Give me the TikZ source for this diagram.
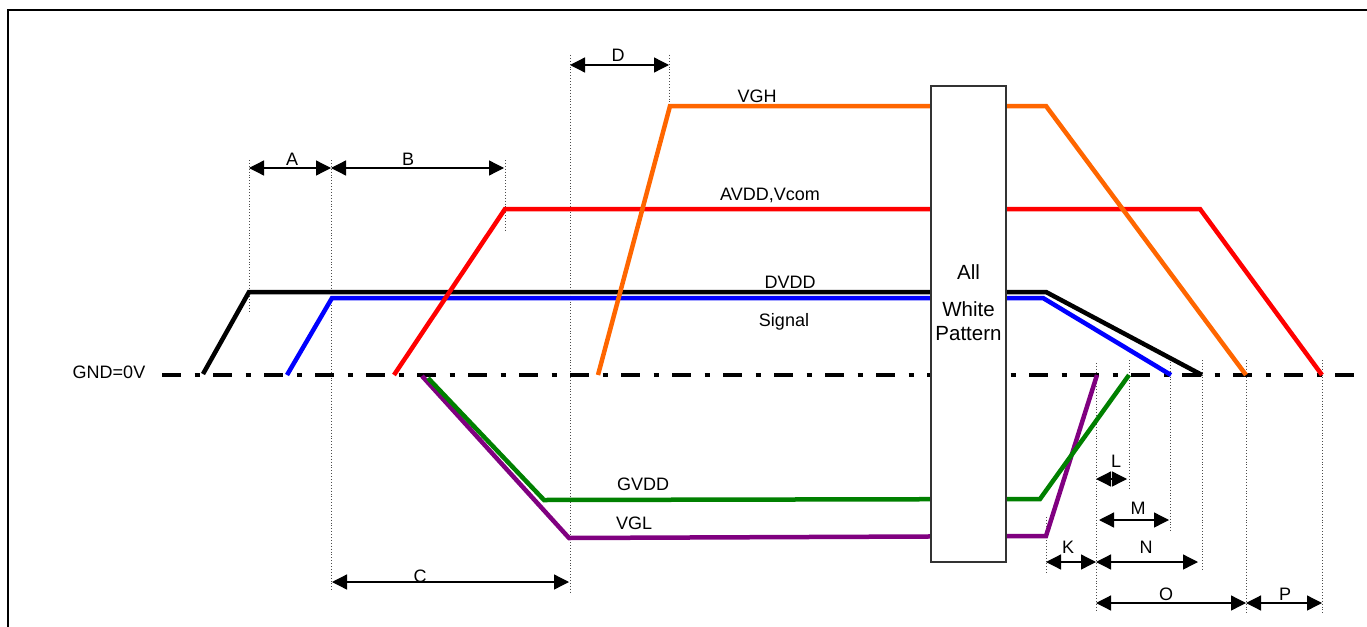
\documentclass[tikz,border=0pt]{standalone}
\usepackage{fontspec}
\setmainfont{Liberation Sans}
\usetikzlibrary{arrows.meta}
\definecolor{cOrange}{HTML}{FF6600}
\definecolor{cRed}{HTML}{FF0000}
\definecolor{cBlue}{HTML}{0000FF}
\definecolor{cGreen}{HTML}{008000}
\definecolor{cPurple}{HTML}{800080}
\begin{document}
\begin{tikzpicture}[x=1pt,y=-1pt,
  sig/.style={line width=4.5pt},
  dimline/.style={line width=1.3pt,{Triangle[length=15pt,width=15pt]}-{Triangle[length=15pt,width=15pt]}},
  guide/.style={dotted, line width=0.9pt, black!70},
  lbl/.style={anchor=base, inner sep=0pt, font=\fontsize{18}{21}\selectfont},
  boxtxt/.style={anchor=base, inner sep=0pt, font=\fontsize{20.5}{24}\selectfont},
  gndline/.style={line width=4.5pt, dash pattern=on 19pt off 13.5pt on 5pt off 13.5pt}]
\useasboundingbox (0,0) rectangle (1367,626);
\clip (0,0) rectangle (1367,626);
% frame
\draw[line width=2pt] (8,10) rectangle (1390,650);

% guide lines
\draw[guide] (249,160) -- (249,313);
\draw[guide] (331,160) -- (331,592);
\draw[guide] (505,160) -- (505,232);
\draw[guide] (570,55) -- (570,594);
\draw[guide] (669,55) -- (669,106);
\draw[guide] (1046,517) -- (1046,573);
\draw[guide] (1096,363) -- (1096,612);
\draw[guide] (1129,360) -- (1129,490);
\draw[guide] (1170,362) -- (1170,532);
\draw[guide] (1202,360) -- (1202,570);
\draw[guide] (1246,360) -- (1246,614);
\draw[guide] (1322,360) -- (1322,614);

% ground
\draw[gndline] (162,375) -- (1356,375);
\node[lbl] (gnd) at (109,378) {GND=0V};

% signals
\draw[sig,black] (203,374) -- (249,292) -- (1046,292) -- (1202,375);
\draw[sig,cBlue] (287,375) -- (332,298) -- (1043,298) -- (1171,375);
\draw[sig,cRed] (394,375) -- (505,209) -- (1200,209) -- (1322,375);
\draw[sig,cOrange] (598,375) -- (670,106) -- (1046,106) -- (1246,375);
\draw[sig,cPurple] (422,376) -- (569,538) -- (1046,536) -- (1097,375);
\draw[sig,cGreen] (428,378) -- (544,500) -- (1040,499) -- (1129,375);

\node[lbl] (vgh) at (757,102) {VGH};
\node[lbl] (avdd) at (770,200) {AVDD,Vcom};
\node[lbl] (dvdd) at (790,288) {DVDD};
\node[lbl] (signal) at (784,326) {Signal};
\node[lbl] (gvdd) at (643,490) {GVDD};
\node[lbl] (vgl) at (634,529) {VGL};

% pattern box
\draw[line width=2pt, black!80, fill=white] (931,86) rectangle (1006,562);
\node[boxtxt] (all) at (968.5,279) {All};
\node[boxtxt] (white) at (968.5,316) {White};
\node[boxtxt] (pattern) at (968.5,340) {Pattern};

% dimensions
\draw[dimline] (249,168) -- (331,168);
\node[lbl] (la) at (292,165) {A};
\draw[dimline] (331,168) -- (504,168);
\node[lbl] (lb) at (408,165) {B};
\draw[dimline] (570,65) -- (669,65);
\node[lbl] (ld) at (618,62) {D};
\draw[dimline] (332,582) -- (569,582);
\node[lbl] (lc) at (420,582) {C};
\draw[dimline] (1046,562) -- (1096,562);
\node[lbl] (lk) at (1068,553) {K};
\draw[dimline] (1096,562) -- (1198,562);
\node[lbl] (ln) at (1146,553) {N};
\draw[dimline] (1096,479) -- (1127,479);
\node[lbl] (ll) at (1116,467) {L};
\draw[dimline] (1099,520) -- (1169,520);
\node[lbl] (lm) at (1138,514) {M};
\draw[dimline] (1096,603) -- (1246,603);
\node[lbl] (lo) at (1166,600) {O};
\draw[dimline] (1246,603) -- (1322,603);
\node[lbl] (lp) at (1285,600) {P};
\end{tikzpicture}
\end{document}
